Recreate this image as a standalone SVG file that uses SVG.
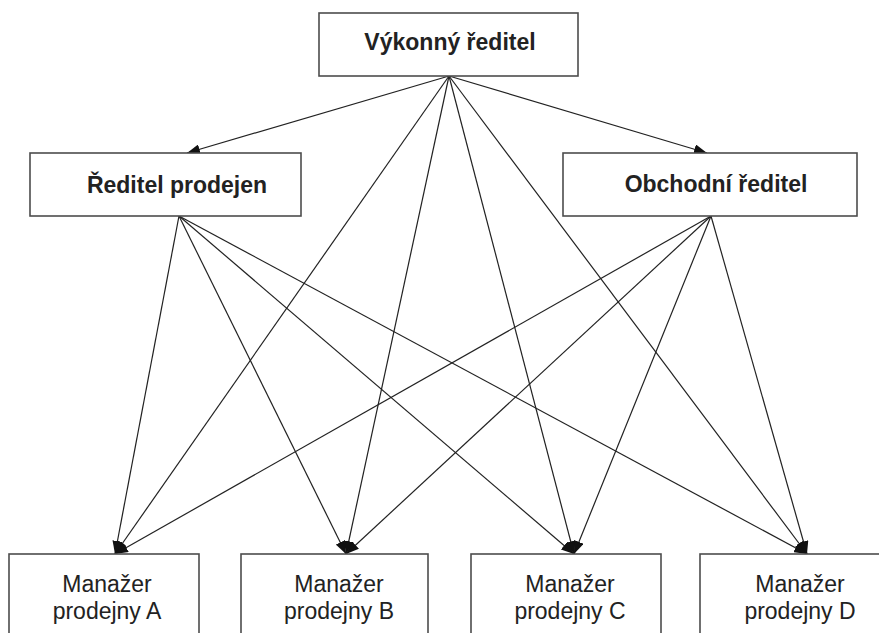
<svg xmlns="http://www.w3.org/2000/svg" width="879" height="633" viewBox="0 0 879 633">
<style>
.box{fill:#fff;stroke:#4d4d4d;stroke-width:1.6}
.t{font-family:"Liberation Sans",Arial,sans-serif;font-size:23px;fill:#222;text-anchor:middle}
.b{font-weight:bold}
.c{fill:none;stroke:#222;stroke-width:1.2;marker-end:url(#ah)}
</style>
<defs>
<marker id="ah" markerUnits="userSpaceOnUse" markerWidth="14" markerHeight="10" refX="13" refY="5" orient="auto">
<path d="M0,0 L13,5 L0,10 Z" fill="#111"/>
</marker>
</defs>
<rect width="879" height="633" fill="#fff"/>
<g id="connectors">
<line class="c" x1="449" y1="76" x2="187" y2="153"/>
<line class="c" x1="449" y1="76" x2="707" y2="153"/>
<line class="c" x1="449" y1="76" x2="115" y2="554"/>
<line class="c" x1="449" y1="76" x2="346" y2="554"/>
<line class="c" x1="449" y1="76" x2="574" y2="554"/>
<line class="c" x1="449" y1="76" x2="807" y2="554"/>
<line class="c" x1="179" y1="216" x2="115" y2="554"/>
<line class="c" x1="179" y1="216" x2="346" y2="554"/>
<line class="c" x1="179" y1="216" x2="574" y2="554"/>
<line class="c" x1="179" y1="216" x2="807" y2="554"/>
<line class="c" x1="711" y1="216" x2="115" y2="554"/>
<line class="c" x1="711" y1="216" x2="346" y2="554"/>
<line class="c" x1="711" y1="216" x2="574" y2="554"/>
<line class="c" x1="711" y1="216" x2="807" y2="554"/>
</g>
<g id="ceo">
<rect class="box" x="319" y="13" width="259" height="63"/>
<text class="t b" x="450" y="50">Výkonný ředitel</text>
</g>
<g id="sales-director">
<rect class="box" x="30" y="153" width="271" height="63"/>
<text class="t b" x="177" y="193">Ředitel prodejen</text>
</g>
<g id="commercial-director">
<rect class="box" x="563" y="153" width="294" height="63"/>
<text class="t b" x="716" y="192">Obchodní ředitel</text>
</g>
<g id="manager-a">
<rect class="box" x="9" y="554" width="190" height="100"/>
<text class="t" x="107" y="592">Manažer</text>
<text class="t" x="107" y="619">prodejny A</text>
</g>
<g id="manager-b">
<rect class="box" x="241" y="554" width="187" height="100"/>
<text class="t" x="339" y="592">Manažer</text>
<text class="t" x="339" y="619">prodejny B</text>
</g>
<g id="manager-c">
<rect class="box" x="471" y="554" width="190" height="100"/>
<text class="t" x="570" y="592">Manažer</text>
<text class="t" x="570" y="619">prodejny C</text>
</g>
<g id="manager-d">
<rect class="box" x="700" y="554" width="194" height="100"/>
<text class="t" x="800" y="592">Manažer</text>
<text class="t" x="800" y="619">prodejny D</text>
</g>
</svg>
